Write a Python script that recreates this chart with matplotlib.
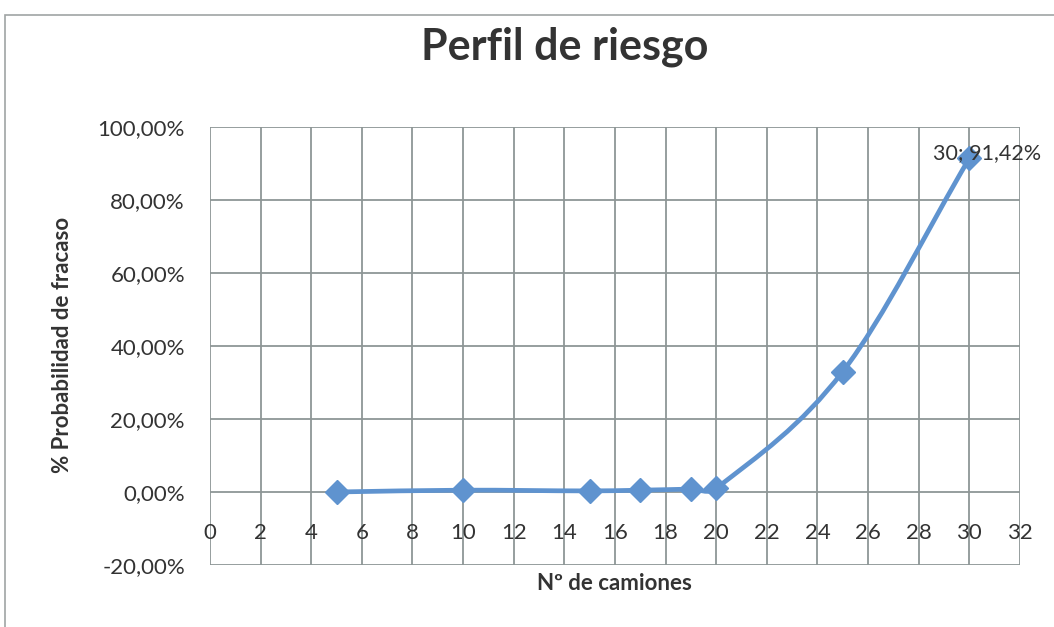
import numpy as np
import matplotlib.pyplot as plt
from matplotlib.path import Path
from matplotlib.patches import PathPatch, Rectangle
from matplotlib.ticker import FuncFormatter

plt.rcParams['font.family'] = ['Lato', 'DejaVu Sans']

# data
camiones = [5, 10, 15, 17, 19, 20, 25, 30]
prob_fracaso = [0.0, 0.5, 0.3, 0.5, 0.8, 1.0, 33.0, 91.42]
x_ticks = list(range(0, 33, 2))
y_ticks = [-20, 0, 20, 40, 60, 80, 100]

blue = '#5f93cf'
grid_c = '#8e9696'
text_c = '#333333'

fig = plt.figure(figsize=(10.54, 6.27), dpi=100)
ax = fig.add_axes([0.1992, 0.0989, 0.7685, 0.6985])

# outer chart border
fig.patches.append(Rectangle((5 / 1054, -0.1), 1.2, 0.1 + (627 - 15) / 627,
                             transform=fig.transFigure, fill=False,
                             edgecolor='#a0a4a4', linewidth=1.2))

# smoothed line (bezier segments, tangent from neighbouring points)
pts = np.column_stack([camiones, prob_fracaso]).astype(float)
n = len(pts)
slopes = []
for i in range(n):
    a = pts[max(i - 1, 0)]
    b = pts[min(i + 1, n - 1)]
    slopes.append((b[1] - a[1]) / (b[0] - a[0]))
verts = [pts[0]]
codes = [Path.MOVETO]
for i in range(n - 1):
    p1, p2 = pts[i], pts[i + 1]
    dx = (p2[0] - p1[0]) / 3.0
    verts += [(p1[0] + dx, p1[1] + slopes[i] * dx),
              (p2[0] - dx, p2[1] - slopes[i + 1] * dx),
              p2]
    codes += [Path.CURVE4] * 3
ax.add_patch(PathPatch(Path(verts, codes), facecolor='none', edgecolor=blue,
                       linewidth=3.4, capstyle='round', zorder=3))
ax.plot(camiones, prob_fracaso, linestyle='none', marker='D', markersize=12,
        color=blue, zorder=4)

ax.text(28.55, prob_fracaso[-1] + 1.5, '30; 91,42%', fontsize=15.5,
        color=text_c, ha='left', va='center', zorder=5)

ax.set_xlim(0, 32)
ax.set_ylim(-20, 100)
ax.set_xticks(x_ticks)
ax.set_yticks(y_ticks)
ax.yaxis.set_major_formatter(FuncFormatter(lambda v, p: ('%.2f%%' % v).replace('.', ',')))
ax.grid(True, color=grid_c, linewidth=1.3, linestyle='-')
ax.set_axisbelow(True)

for s in ['top', 'right', 'left']:
    ax.spines[s].set_visible(False)
ax.spines['bottom'].set_position(('data', 0))
ax.spines['bottom'].set_visible(False)

ax.tick_params(axis='x', length=0, pad=22, labelsize=16, labelcolor=text_c)
ax.tick_params(axis='y', length=0, pad=18, labelsize=16, labelcolor=text_c)

fig.text(0.536, 0.925, 'Perfil de riesgo', fontsize=31, fontweight='bold',
         color=text_c, ha='center', va='center')
fig.text(0.583, 0.07, 'Nº de camiones', fontsize=16, fontweight='bold',
         color=text_c, ha='center', va='center')
fig.text(0.059, 0.45, '% Probabilidad de fracaso', fontsize=16, fontweight='bold',
         color=text_c, ha='center', va='center', rotation=90)

fig.savefig('out.png', dpi=100, facecolor='white')
